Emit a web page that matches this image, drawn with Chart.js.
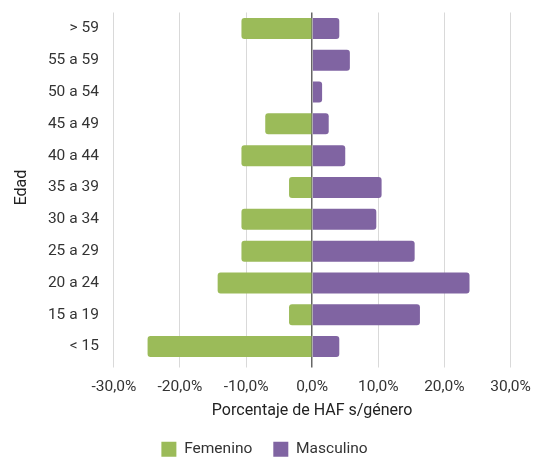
<!DOCTYPE html>
<html>
<head>
<meta charset="utf-8">
<script src="https://cdn.jsdelivr.net/npm/chart.js@4/dist/chart.umd.min.js"></script>
<style>
  html, body { margin: 0; padding: 0; background: #fff; }
  #wrap { width: 539px; height: 463px; position: relative; }
</style>
</head>
<body>
<div id="wrap"><canvas id="pyramidChart"></canvas></div>
<script>
const ageGroups = ['> 59', '55 a 59', '50 a 54', '45 a 49', '40 a 44', '35 a 39', '30 a 34', '25 a 29', '20 a 24', '15 a 19', '< 15'];
const femenino = [-10.7, 0, 0, -7.1, -10.7, -3.5, -10.7, -10.7, -14.3, -3.5, -24.9];
const masculino = [4.1, 5.7, 1.5, 2.5, 5.0, 10.5, 9.7, 15.5, 23.8, 16.3, 4.1];
const xTicks = [-30, -20, -10, 0, 10, 20, 30];

const fmtPct = (v) => v.toFixed(1).replace('.', ',') + '%';

document.addEventListener('DOMContentLoaded', () => {
  Chart.defaults.font.family = "Roboto, 'Noto Sans', sans-serif";
  Chart.defaults.font.size = 15.5;
  Chart.defaults.color = '#333';

  const ctx = document.getElementById('pyramidChart').getContext('2d');
  new Chart(ctx, {
    type: 'bar',
    data: {
      labels: ageGroups,
      datasets: [
        {
          label: 'Femenino',
          data: femenino,
          backgroundColor: '#9bbb59',
          borderRadius: 3,
          borderSkipped: 'start',
          barPercentage: 0.66,
          categoryPercentage: 1
        },
        {
          label: 'Masculino',
          data: masculino,
          backgroundColor: '#8064a2',
          borderRadius: 3,
          borderSkipped: 'start',
          barPercentage: 0.66,
          categoryPercentage: 1
        }
      ]
    },
    options: {
      indexAxis: 'y',
      responsive: true,
      maintainAspectRatio: false,
      animation: false,
      layout: { padding: { top: 12.5, right: 10, left: 0, bottom: -4 } },
      plugins: {
        legend: {
          position: 'bottom',
          labels: { boxWidth: 15, boxHeight: 15, padding: 21, color: '#333' }
        },
        tooltip: {
          callbacks: {
            label: (c) => `${c.dataset.label}: ${fmtPct(Math.abs(c.raw))}`
          }
        }
      },
      scales: {
        x: {
          min: -30,
          max: 30,
          afterBuildTicks: (axis) => { axis.ticks = xTicks.map((v) => ({ value: v })); },
          afterFit: (axis) => {
            axis.paddingRight = 28.5;
            axis.height = 58;
          },
          grid: {
            color: (c) => c.tick && c.tick.value === 0 ? '#666' : '#d9d9d9',
            lineWidth: (c) => c.tick && c.tick.value === 0 ? 1.5 : 1,
            drawTicks: true,
            tickLength: 5
          },
          border: { display: false },
          ticks: { callback: (v) => fmtPct(v), color: '#333', padding: 10 },
          title: {
            display: true,
            text: 'Porcentaje de HAF s/género',
            color: '#222',
            font: { size: 16 },
            padding: { top: 0, bottom: 0 }
          }
        },
        y: {
          stacked: true,
          afterFit: (axis) => { axis.paddingTop = 0; axis.paddingBottom = 0; },
          grid: { display: false, drawTicks: false },
          border: { display: false },
          ticks: { color: '#333', padding: 15 },
          title: { display: true, text: 'Edad', color: '#222', font: { size: 16 }, padding: { top: 12.5, bottom: 1.2 } }
        }
      }
    }
  });
});
</script>
</body>
</html>
